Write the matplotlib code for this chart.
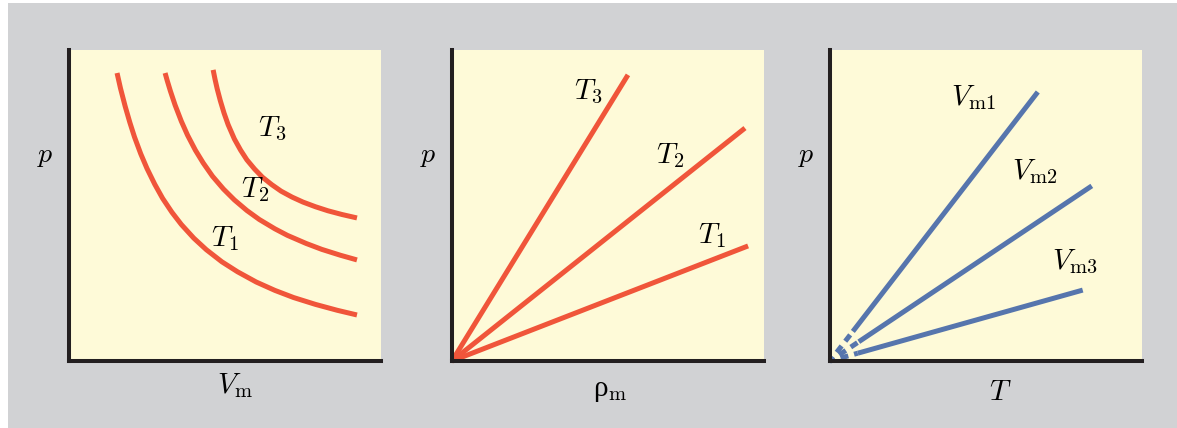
# three sketches of the ideal gas law: p-V isotherms, p-rho isotherms, p-T isochores
import matplotlib.pyplot as plt
from matplotlib.patches import Rectangle

plt.rcParams['mathtext.fontset'] = 'cm'

RED = '#f0553a'
BLUE = '#5675ad'
YELLOW = '#fefad8'
GREY = '#d1d2d4'
INK = '#231f20'

# isotherms, p against V_m (arbitrary units, 0..10)
v_t1 = [1.54, 1.65, 1.8, 1.95, 2.1, 2.3, 2.5, 2.75, 3.0, 3.3, 3.6, 4.0, 4.4,
        4.9, 5.4, 6.0, 6.6, 7.2, 7.9, 8.6, 9.23]
p_t1 = [9.26, 8.77, 8.19, 7.67, 7.20, 6.66, 6.19, 5.68, 5.23, 4.78, 4.39, 3.95,
        3.58, 3.19, 2.87, 2.54, 2.27, 2.04, 1.82, 1.63, 1.48]
v_t2 = [3.08, 3.15, 3.25, 3.4, 3.6, 3.8, 4.05, 4.3, 4.6, 4.95, 5.3, 5.7, 6.1,
        6.6, 7.0, 7.6, 8.1, 8.7, 9.23]
p_t2 = [9.26, 9.01, 8.68, 8.23, 7.71, 7.26, 6.78, 6.37, 5.94, 5.53, 5.18, 4.84,
        4.55, 4.25, 4.04, 3.78, 3.59, 3.40, 3.25]
v_t3 = [4.62, 4.68, 4.75, 4.85, 4.97, 5.1, 5.3, 5.5, 5.7, 5.95, 6.2, 6.5, 6.8,
        7.15, 7.5, 7.9, 8.3, 8.75, 9.23]
p_t3 = [9.36, 9.06, 8.75, 8.37, 7.97, 7.60, 7.14, 6.78, 6.47, 6.17, 5.91, 5.67,
        5.46, 5.27, 5.11, 4.96, 4.83, 4.71, 4.60]

# isotherms, p against rho_m: straight lines from the origin
rho_end = [9.49, 9.39, 5.64]
p_rho_end = [3.70, 7.49, 9.20]

# isochores, p against T
t_end = [6.66, 8.39, 8.10]
p_t_end = [8.65, 5.63, 2.28]
dash_frac = 0.11  # share of each isochore near the origin drawn dashed

iso_labels = ['$T_1$', '$T_2$', '$T_3$']
vm_labels = [r'$V_{\rm m1}$', r'$V_{\rm m2}$', r'$V_{\rm m3}$']

fig = plt.figure(figsize=(11.77, 4.28), dpi=100, facecolor='white')
fig.add_artist(Rectangle((8 / 1177, 0), 1, 425 / 428, transform=fig.transFigure,
                         facecolor=GREY, edgecolor='none', zorder=-10))

lefts = [69 / 1177, 452 / 1177, 830 / 1177]
axes = []
for left in lefts:
    ax = fig.add_axes([left, 67 / 428, 312 / 1177, 311 / 428])
    ax.set_facecolor(YELLOW)
    ax.set_xlim(0, 10)
    ax.set_ylim(0, 10)
    ax.set_xticks([])
    ax.set_yticks([])
    for side in ('top', 'right'):
        ax.spines[side].set_visible(False)
    for side in ('left', 'bottom'):
        ax.spines[side].set_linewidth(2.9)
        ax.spines[side].set_color(INK)
    ax.text(-0.075, 0.662, '$p$', transform=ax.transAxes, fontsize=20,
            ha='center', va='center')
    axes.append(ax)

fs = 21

# panel 1
ax = axes[0]
for v, p in [(v_t1, p_t1), (v_t2, p_t2), (v_t3, p_t3)]:
    ax.plot(v, p, color=RED, lw=3.6, solid_capstyle='butt',
            solid_joinstyle='round', clip_on=False)
for (x, y), lab in zip([(5.0, 3.95), (5.95, 5.5), (6.5, 7.45)], iso_labels):
    ax.text(x, y, lab, fontsize=fs, ha='center', va='center')
ax.text(0.532, -0.08, r'$V_{\rm m}$', transform=ax.transAxes, fontsize=fs,
        ha='center', va='center')

# panel 2
ax = axes[1]
for r, p in zip(rho_end, p_rho_end):
    ax.plot([0, r], [0, p], color=RED, lw=3.6, solid_capstyle='butt', clip_on=False)
for (x, y), lab in zip([(8.33, 4.05), (6.99, 6.62), (4.36, 8.65)], iso_labels):
    ax.text(x, y, lab, fontsize=fs, ha='center', va='center')
ax.text(0.506, -0.095, r'ρ$_{\rm m}$', transform=ax.transAxes, fontsize=fs,
        family='Liberation Serif', ha='center', va='center')

# panel 3
ax = axes[2]
for t, p in zip(t_end, p_t_end):
    tb, pb = t * dash_frac, p * dash_frac
    ax.plot([tb, t], [pb, p], color=BLUE, lw=3.6, solid_capstyle='butt')
    ax.plot([0, tb], [0, pb], color=BLUE, lw=3.6, linestyle=(0.6, (1.6, 1.2)),
            dash_capstyle='butt', clip_on=False)
for (x, y), lab in zip([(4.6, 8.46), (6.55, 6.08), (7.85, 3.18)], vm_labels):
    ax.text(x, y, lab, fontsize=fs, ha='center', va='center')
ax.text(0.547, -0.10, '$T$', transform=ax.transAxes, fontsize=fs,
        ha='center', va='center')

fig.savefig('out.png', dpi=100, facecolor=fig.get_facecolor())
